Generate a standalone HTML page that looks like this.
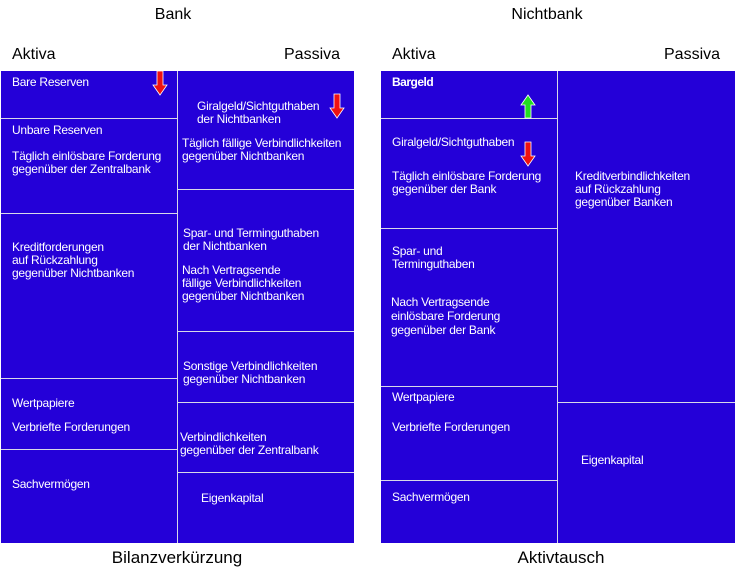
<!DOCTYPE html>
<html><head><meta charset="utf-8"><style>
body{margin:0;width:735px;height:575px;background:#fff;position:relative;overflow:hidden;font-family:"Liberation Sans",Arial,sans-serif}
.b{position:absolute;background:#2400d8;box-sizing:border-box}
.l{position:absolute;background:#d8d8e8}
.t{position:absolute;color:#fff;font-size:12px;line-height:13px;letter-spacing:-0.25px;white-space:nowrap}
.h{position:absolute;color:#000;font-size:16px;line-height:18px;white-space:nowrap}
</style></head><body>
<div class="h" style="left:0;width:346px;text-align:center;top:6px">Bank</div>
<div class="h" style="left:381px;width:332px;text-align:center;top:6px">Nichtbank</div>
<div class="h" style="left:12px;top:46px">Aktiva</div>
<div class="h" style="left:284px;top:46px">Passiva</div>
<div class="h" style="left:392px;top:46px">Aktiva</div>
<div class="h" style="left:664px;top:46px">Passiva</div>
<div class="h" style="left:0;width:354px;text-align:center;top:549px;font-size:17px">Bilanzverkürzung</div>
<div class="h" style="left:381px;width:360px;text-align:center;top:549px;font-size:17px">Aktivtausch</div>

<div class="b" style="left:1px;top:71px;width:353px;height:472px"></div>
<div class="b" style="left:381px;top:71px;width:354px;height:472px"></div>

<div class="l" style="left:177px;top:71px;width:1px;height:472px"></div>
<div class="l" style="left:1px;top:118px;width:176px;height:1px"></div>
<div class="l" style="left:1px;top:213px;width:176px;height:1px"></div>
<div class="l" style="left:1px;top:378px;width:176px;height:1px"></div>
<div class="l" style="left:1px;top:449px;width:176px;height:1px"></div>
<div class="l" style="left:178px;top:189px;width:176px;height:1px"></div>
<div class="l" style="left:178px;top:331px;width:176px;height:1px"></div>
<div class="l" style="left:178px;top:402px;width:176px;height:1px"></div>
<div class="l" style="left:178px;top:472px;width:176px;height:1px"></div>
<div class="l" style="left:557px;top:71px;width:1px;height:472px"></div>
<div class="l" style="left:381px;top:118px;width:176px;height:1px"></div>
<div class="l" style="left:381px;top:228px;width:176px;height:1px"></div>
<div class="l" style="left:381px;top:386px;width:176px;height:1px"></div>
<div class="l" style="left:381px;top:480px;width:176px;height:1px"></div>
<div class="l" style="left:558px;top:402px;width:177px;height:1px"></div>

<div class="t" style="left:12px;top:76px">Bare Reserven</div>
<div class="t" style="left:12px;top:124px">Unbare Reserven</div>
<div class="t" style="left:12px;top:150px">Täglich einlösbare Forderung<br>gegenüber der Zentralbank</div>
<div class="t" style="left:12px;top:241px">Kreditforderungen<br>auf Rückzahlung<br>gegenüber Nichtbanken</div>
<div class="t" style="left:12px;top:397px">Wertpapiere</div>
<div class="t" style="left:12px;top:421px">Verbriefte Forderungen</div>
<div class="t" style="left:12px;top:478px">Sachvermögen</div>
<div class="t" style="left:197px;top:100px">Giralgeld/Sichtguthaben<br>der Nichtbanken</div>
<div class="t" style="left:182px;top:137px">Täglich fällige Verbindlichkeiten<br>gegenüber Nichtbanken</div>
<div class="t" style="left:183px;top:227px">Spar- und Terminguthaben<br>der Nichtbanken</div>
<div class="t" style="left:182px;top:264px">Nach Vertragsende<br>fällige Verbindlichkeiten<br>gegenüber Nichtbanken</div>
<div class="t" style="left:183px;top:360px">Sonstige Verbindlichkeiten<br>gegenüber Nichtbanken</div>
<div class="t" style="left:180px;top:431px">Verbindlichkeiten<br>gegenüber der Zentralbank</div>
<div class="t" style="left:201px;top:492px">Eigenkapital</div>

<div class="t" style="left:392px;top:76px;font-weight:bold;letter-spacing:-0.5px">Bargeld</div>
<div class="t" style="left:392px;top:136px">Giralgeld/Sichtguthaben</div>
<div class="t" style="left:392px;top:170px">Täglich einlösbare Forderung<br>gegenüber der Bank</div>
<div class="t" style="left:392px;top:245px">Spar- und<br>Terminguthaben</div>
<div class="t" style="left:391px;top:295px;line-height:14px">Nach Vertragsende<br>einlösbare Forderung<br>gegenüber der Bank</div>
<div class="t" style="left:392px;top:391px">Wertpapiere</div>
<div class="t" style="left:392px;top:421px">Verbriefte Forderungen</div>
<div class="t" style="left:392px;top:491px">Sachvermögen</div>
<div class="t" style="left:575px;top:170px">Kreditverbindlichkeiten<br>auf Rückzahlung<br>gegenüber Banken</div>
<div class="t" style="left:581px;top:454px">Eigenkapital</div>

<svg style="position:absolute;left:0;top:0" width="735" height="575">
<g stroke="#fff" stroke-width="0.8">
<polygon fill="#ee1111" points="157,71 163,71 163,85 167,85 160,95 153,85 157,85"/>
<polygon fill="#ee1111" points="334,94 340,94 340,108 344,108 337,118 330,108 334,108"/>
<polygon fill="#22dd22" points="525,118 531,118 531,105 535,105 528,95 521,105 525,105"/>
<polygon fill="#ee1111" points="525,142 531,142 531,156 535,156 528,166 521,156 525,156"/>
</g>
</svg>
</body></html>
